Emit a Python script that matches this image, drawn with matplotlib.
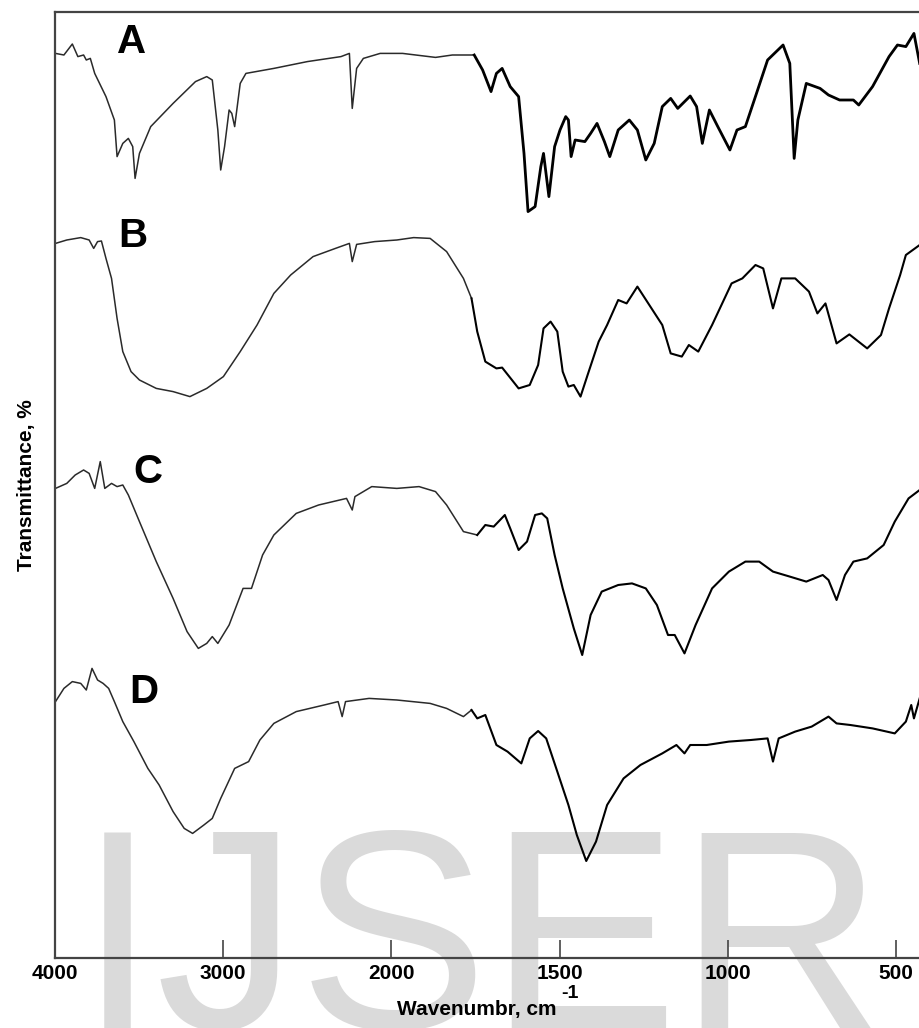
import numpy as np
import matplotlib
matplotlib.use("Agg")
import matplotlib.pyplot as plt

plt.rcParams['font.family'] = ['Liberation Sans', 'DejaVu Sans']

# ---- spectra: wavenumber (cm^-1) and transmittance (arbitrary %, per trace) ----
wn_A = [3997, 3947, 3897, 3864, 3830, 3814, 3790, 3764, 3697, 3647, 3631, 3597, 3564, 3538,
        3524, 3498, 3431, 3298, 3165, 3098, 3065, 3032, 3015, 2992, 2965, 2949, 2932, 2899,
        2865, 2699, 2500, 2300, 2250, 2233, 2207, 2167, 2067, 1967, 1869, 1819, 1754, 1729,
        1704, 1688, 1671, 1647, 1622, 1606, 1594, 1573, 1556, 1548, 1532, 1515, 1499, 1482,
        1474, 1466, 1454, 1425, 1408, 1389, 1367, 1351, 1326, 1293, 1269, 1244, 1219, 1195,
        1170, 1149, 1112, 1093, 1076, 1055, 1030, 994, 973, 948, 915, 882, 836, 816, 803, 792,
        767, 726, 701, 668, 627, 611, 570, 521, 496, 471, 447, 430]
T_A = [83.3, 82.5, 88.0, 81.7, 82.5, 80.0, 80.8, 73.3, 61.7, 50.0, 31.7, 38.3, 40.8, 36.7,
       20.8, 33.3, 46.7, 58.3, 69.2, 71.7, 70.0, 45.0, 25.0, 36.7, 55.0, 53.3, 46.7, 68.3,
       73.3, 75.8, 79.2, 81.7, 83.3, 55.8, 75.8, 80.8, 83.3, 83.3, 81.3, 82.5, 82.5, 75.0,
       64.2, 73.3, 75.8, 66.7, 61.7, 33.3, 4.2, 6.7, 26.7, 33.3, 11.7, 36.7, 45.0, 51.7,
       50.0, 31.7, 40.0, 39.2, 43.3, 48.3, 39.2, 31.7, 45.0, 50.0, 45.0, 30.0, 38.3, 56.7,
       60.8, 55.8, 62.0, 56.7, 38.3, 55.0, 46.7, 35.0, 45.0, 46.7, 63.3, 80.0, 87.5, 78.3,
       30.8, 50.0, 68.3, 65.8, 62.5, 60.0, 60.0, 57.5, 66.7, 81.7, 87.5, 86.7, 93.3, 78.3]

wn_B = [3997, 3930, 3847, 3797, 3770, 3747, 3724, 3697, 3664, 3631, 3597, 3548, 3498, 3398,
        3298, 3198, 3098, 2999, 2899, 2799, 2699, 2599, 2466, 2333, 2250, 2233, 2207, 2100,
        1984, 1934, 1885, 1836, 1786, 1762, 1745, 1721, 1688, 1671, 1638, 1622, 1589, 1564,
        1548, 1527, 1507, 1491, 1474, 1458, 1438, 1417, 1384, 1359, 1326, 1301, 1269, 1227,
        1195, 1170, 1137, 1116, 1088, 1047, 989, 957, 918, 895, 866, 841, 800, 759, 734, 710,
        677, 639, 586, 545, 521, 488, 471, 430]
T_B = [90.8, 92.5, 93.7, 92.5, 88.3, 91.7, 92.0, 83.3, 73.3, 53.3, 36.7, 26.7, 22.5, 18.3,
       16.7, 14.2, 18.3, 24.2, 36.7, 50.0, 65.8, 75.0, 84.2, 88.3, 90.8, 81.7, 90.3, 91.7,
       92.5, 93.7, 93.3, 86.7, 73.3, 63.3, 46.7, 31.7, 28.3, 28.7, 21.7, 18.3, 20.0, 30.0,
       48.3, 51.7, 46.7, 26.7, 19.2, 20.0, 14.2, 25.0, 41.7, 50.0, 62.5, 60.8, 69.2, 58.3,
       50.0, 35.8, 34.2, 40.0, 36.7, 50.0, 70.8, 73.3, 80.0, 78.3, 58.3, 73.3, 73.3, 66.7,
       55.8, 60.8, 40.8, 45.3, 38.3, 45.0, 58.3, 75.0, 85.0, 90.0]

wn_C = [3997, 3930, 3880, 3830, 3797, 3764, 3731, 3704, 3664, 3631, 3597, 3564, 3498, 3398,
        3298, 3215, 3148, 3098, 3065, 3032, 2965, 2882, 2832, 2766, 2699, 2566, 2433, 2267,
        2233, 2217, 2117, 1984, 1918, 1869, 1836, 1786, 1745, 1721, 1696, 1663, 1647, 1622,
        1597, 1573, 1553, 1537, 1515, 1491, 1458, 1433, 1408, 1375, 1326, 1285, 1244, 1211,
        1178, 1158, 1129, 1096, 1047, 997, 948, 907, 866, 816, 767, 718, 701, 677, 652, 627,
        586, 537, 504, 463, 430]
T_C = [83.3, 85.8, 90.0, 92.5, 90.8, 83.3, 96.7, 83.3, 85.8, 84.2, 85.0, 80.0, 66.7, 46.7,
       28.3, 11.7, 3.3, 5.8, 9.2, 5.8, 15.0, 33.3, 33.3, 50.0, 60.0, 70.8, 75.0, 78.3,
       72.5, 79.2, 84.2, 83.3, 84.2, 81.7, 75.0, 61.7, 60.0, 65.0, 64.2, 70.0, 63.3, 52.5,
       56.7, 70.0, 70.8, 68.3, 50.0, 33.3, 13.3, 0.0, 20.0, 31.7, 35.0, 35.8, 33.3, 25.0,
       10.0, 10.0, 0.8, 15.0, 33.3, 41.7, 46.7, 46.7, 41.7, 39.2, 36.7, 40.0, 37.5, 27.5,
       40.0, 46.7, 48.3, 55.0, 66.7, 78.3, 82.5]

wn_D = [3997, 3947, 3897, 3847, 3814, 3780, 3747, 3714, 3681, 3647, 3597, 3531, 3448, 3381,
        3298, 3232, 3182, 3115, 3065, 3015, 2932, 2849, 2782, 2699, 2566, 2400, 2317, 2293,
        2273, 2133, 1984, 1885, 1836, 1786, 1762, 1745, 1721, 1688, 1655, 1614, 1589, 1564,
        1540, 1507, 1474, 1449, 1421, 1392, 1359, 1310, 1260, 1195, 1153, 1129, 1112, 1063,
        997, 932, 882, 866, 849, 800, 751, 701, 677, 636, 570, 504, 471, 455, 447, 430]
T_D = [76.7, 83.3, 86.7, 85.8, 82.5, 93.3, 87.5, 85.8, 83.3, 76.7, 66.7, 56.7, 43.3, 35.0,
       21.7, 13.3, 10.8, 15.0, 18.3, 28.3, 43.3, 46.7, 57.5, 65.8, 71.7, 75.0, 76.7, 69.2,
       76.7, 78.3, 77.5, 75.8, 73.3, 69.2, 72.5, 68.3, 70.0, 55.0, 51.7, 45.8, 58.3, 62.0,
       58.3, 41.7, 25.0, 10.0, -3.0, 6.7, 25.0, 38.3, 45.0, 50.8, 55.0, 50.8, 55.0, 55.0,
       56.7, 57.5, 58.3, 46.7, 58.3, 61.7, 64.2, 69.2, 65.8, 65.0, 63.3, 60.8, 66.7, 75.0,
       68.3, 78.3]

names = ['A', 'B', 'C', 'D']
wavenumbers = [wn_A, wn_B, wn_C, wn_D]
transmittance = [T_A, T_B, T_C, T_D]
offsets = [369.0, 266.5, 151.5, 51.5]          # vertical stacking of the traces
label_pos = [(3545, 458), (3539, 361), (3449, 243), (3473, 133)]

tick_values = [4000, 3000, 2000, 1500, 1000, 500]
tick_labels = ['4000', '3000', '2000', '1500', '1000', '500']


# x axis: 1000 cm^-1 per division above 2000, 500 cm^-1 per division below
# (monotonically increasing in wavenumber; the axis is then reversed by the limits)
def fwd(w):
    w = np.asarray(w, dtype=float)
    return np.where(w >= 2000, (w - 4000.0) / 1000.0, -2.0 - (2000.0 - w) / 500.0)


def inv(u):
    u = np.asarray(u, dtype=float)
    return np.where(u >= -2, 4000.0 + 1000.0 * u, 2000.0 + 500.0 * (u + 2.0))


W, H = 920, 1028
fig = plt.figure(figsize=(W / 100, H / 100), dpi=100, facecolor='white')

# faint publisher watermark behind the plot
fig.text(78 / W, 1 - 1028 / H, 'IJSER', fontsize=205, color='#dadada',
         family='Liberation Sans', ha='left', va='baseline', zorder=-5)

ax = fig.add_axes([55 / W, 1 - 958 / H, 865 / W, 946 / H])
ax.patch.set_visible(False)
ax.set_xscale('function', functions=(fwd, inv))
ax.set_xlim(4000, 429)
ax.set_ylim(0, 473)

split = 1785  # the high-wavenumber part of each trace is drawn finer
for name, wn, T, off, (lx, ly) in zip(names, wavenumbers, transmittance, offsets, label_pos):
    wn = np.asarray(wn, dtype=float)
    y = np.asarray(T, dtype=float) + off
    k = int(np.sum(wn >= split))
    ax.plot(wn[:k + 1], y[:k + 1], color='#2a2a2a', lw=1.1, solid_joinstyle='round')
    ax.plot(wn[k:], y[k:], color='black', lw=2.0 if name == 'A' else 1.5,
            solid_joinstyle='round')
    ax.text(lx, ly, name, fontsize=29, fontweight='bold', ha='center', va='center')

for side in ('left', 'bottom', 'top'):
    ax.spines[side].set_color('#444444')
    ax.spines[side].set_linewidth(1.6)
ax.spines['right'].set_visible(False)

ax.set_xticks(tick_values)
ax.set_xticklabels(tick_labels, fontsize=15, fontweight='bold')
ax.xaxis.set_minor_locator(matplotlib.ticker.NullLocator())
ax.tick_params(axis='x', direction='in', length=13, width=1.2, color='#444444', pad=4)
ax.set_yticks([])

ax.set_ylabel('Transmittance, %', fontsize=15, fontweight='bold', labelpad=14)

# x-axis title with a full-size raised exponent
fig.text(477 / W, 1 - 1015 / H, 'Wavenumbr, cm', fontsize=15, fontweight='bold',
         ha='center', va='baseline')
fig.text(570 / W, 1 - 994 / H, '-1', fontsize=14, fontweight='bold',
         ha='center', va='center')

fig.savefig('out.png', dpi=100, facecolor='white')
